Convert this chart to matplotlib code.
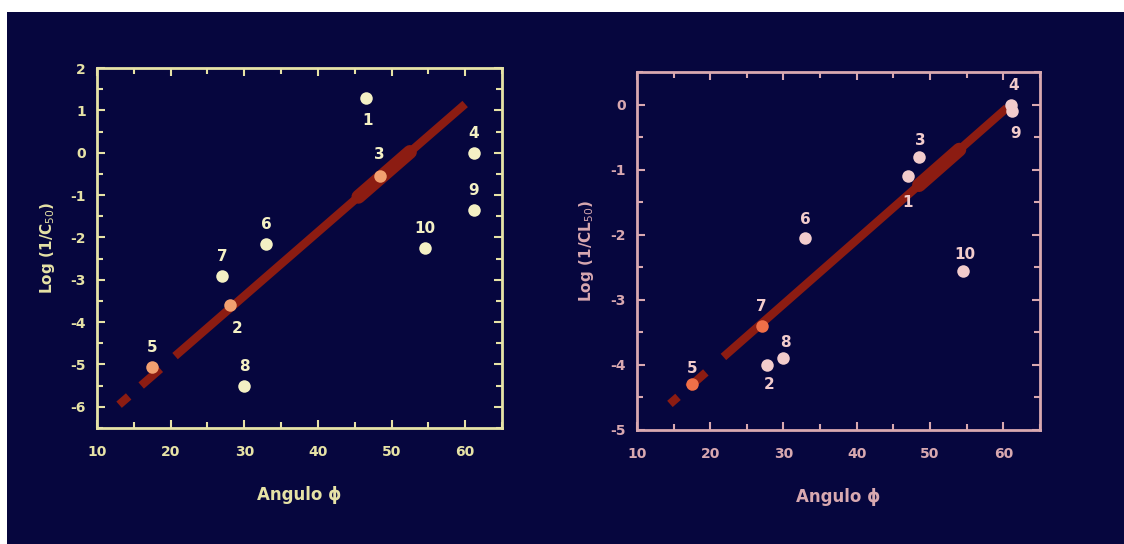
import matplotlib.pyplot as plt
from matplotlib.patches import Rectangle
from matplotlib.ticker import MultipleLocator

plt.rcParams["axes.unicode_minus"] = False

# datos panel izquierdo: Log(1/C50) vs angulo phi
left_ids = ["1", "2", "3", "4", "5", "6", "7", "8", "9", "10"]
left_x = [46.5, 28.0, 48.5, 61.2, 17.5, 33.0, 27.0, 30.0, 61.2, 54.5]
left_y = [1.3, -3.6, -0.55, 0.0, -5.05, -2.15, -2.9, -5.5, -1.35, -2.25]
left_on_line = ["2", "3", "5"]
left_fit_x = [13.0, 60.0]
left_fit_y = [-5.95, 1.15]

# datos panel derecho: Log(1/CL50) vs angulo phi
right_ids = ["1", "2", "3", "4", "5", "6", "7", "8", "9", "10"]
right_x = [47.0, 27.8, 48.5, 61.0, 17.5, 33.0, 27.0, 30.0, 61.2, 54.5]
right_y = [-1.1, -4.0, -0.8, 0.0, -4.3, -2.05, -3.4, -3.9, -0.1, -2.55]
right_on_line = ["5", "7"]
right_fit_x = [14.5, 60.5]
right_fit_y = [-4.6, -0.05]

navy = "#06063e"
red = "#8c1c12"

fig = plt.figure(figsize=(11.24, 5.44), dpi=100)
fig.patch.set_facecolor("white")
fig.patches.append(Rectangle((7 / 1124, 0), 1, 1 - 12 / 544, transform=fig.transFigure,
                             facecolor=navy, edgecolor="none", zorder=-10))


def fit_line(ax, fx, fy, gaps):
    # recta de regresion en tramos (como en la figura original)
    slope = (fy[1] - fy[0]) / (fx[1] - fx[0])
    edges = [fx[0]] + [g for pair in gaps for g in pair] + [fx[1]]
    for a, b in zip(edges[0::2], edges[1::2]):
        ax.plot([a, b], [fy[0] + slope * (a - fx[0]), fy[0] + slope * (b - fx[0])],
                color=red, lw=6, solid_capstyle="butt", zorder=2)
    return slope


def panel(ax, ids, xs, ys, on_line, fx, fy, gaps, bulge, col, pcol, hot,
          ylim, ylabel, label_pos):
    ax.set_facecolor(navy)
    slope = fit_line(ax, fx, fy, gaps)
    bx = [bulge[0], bulge[1]]
    ax.plot(bx, [fy[0] + slope * (v - fx[0]) for v in bx], color=red, lw=10,
            solid_capstyle="round", zorder=2)
    for i, x, y in zip(ids, xs, ys):
        c = hot if i in on_line else pcol
        ax.plot(x, y, "o", ms=9, color=c, mec="none", zorder=3)
        dx, dy = label_pos.get(i, (0, 0.45))
        ax.text(x + dx, y + dy, i, color=pcol, fontsize=11, fontweight="bold",
                ha="center", va="center", zorder=4)
    ax.set_xlim(10, 65)
    ax.set_ylim(*ylim)
    ax.xaxis.set_major_locator(MultipleLocator(10))
    ax.xaxis.set_minor_locator(MultipleLocator(5))
    ax.yaxis.set_major_locator(MultipleLocator(1))
    ax.yaxis.set_minor_locator(MultipleLocator(0.5))
    ax.tick_params(which="both", direction="in", top=True, right=True,
                   colors=col, labelcolor=col, width=1.5)
    ax.tick_params(which="major", length=6, labelsize=10)
    ax.tick_params(axis="x", which="major", pad=12)
    ax.tick_params(axis="y", which="major", pad=8)
    ax.tick_params(which="minor", length=4)
    for lab in ax.get_xticklabels() + ax.get_yticklabels():
        lab.set_fontweight("bold")
    for s in ax.spines.values():
        s.set_color(col)
        s.set_linewidth(2)
    ax.set_xlabel("Angulo ϕ", color=col, fontsize=12, fontweight="bold", labelpad=20)
    ax.set_ylabel(ylabel, color=col, fontsize=11, fontweight="bold", labelpad=10)


ax1 = fig.add_axes([0.0863, 0.2132, 0.3603, 0.6618])
panel(ax1, left_ids, left_x, left_y, left_on_line, left_fit_x, left_fit_y,
      [(14.3, 16.0), (18.6, 20.6)], (45.5, 52.5),
      "#e6e2a6", "#f4f0c4", "#f2a070", (-6.5, 2.0), "Log (1/C$_{50}$)",
      {"1": (0.3, -0.55), "2": (1.0, -0.55), "3": (-0.2, 0.5)})

ax2 = fig.add_axes([0.5667, 0.2096, 0.3585, 0.658])
panel(ax2, right_ids, right_x, right_y, right_on_line, right_fit_x, right_fit_y,
      [(15.6, 17.0), (19.4, 21.8)], (48.5, 54.0),
      "#d8a8b0", "#f2cccc", "#f07048", (-5.0, 0.5), "Log (1/CL$_{50}$)",
      {"1": (0.0, -0.4), "2": (0.2, -0.3), "9": (0.5, -0.35), "4": (0.4, 0.3),
       "6": (0.0, 0.28), "10": (0.2, 0.25), "3": (0.2, 0.25), "8": (0.2, 0.25),
       "7": (0.0, 0.3), "5": (0.0, 0.25)})

fig.savefig("out.png", dpi=100, facecolor=fig.get_facecolor())
